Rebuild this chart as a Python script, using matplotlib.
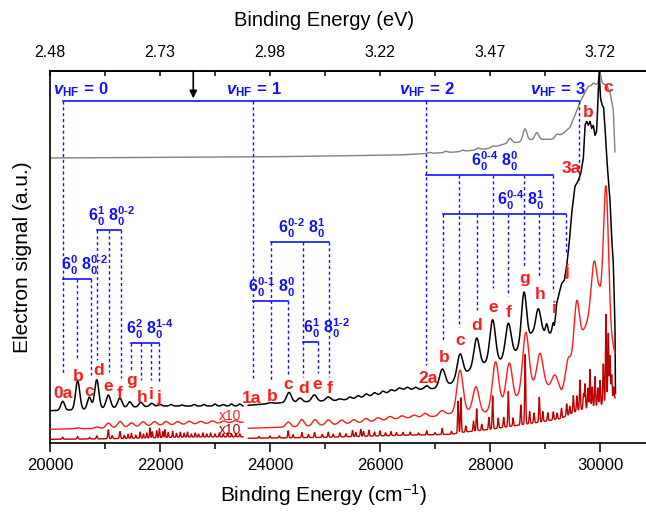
import numpy as np
import matplotlib
matplotlib.use('Agg')
import matplotlib.pyplot as plt
from matplotlib.ticker import MultipleLocator

plt.rcParams['font.family'] = ['Liberation Sans', 'DejaVu Sans']
plt.rcParams['mathtext.fontset'] = 'custom'
plt.rcParams['mathtext.rm'] = 'Liberation Sans'
plt.rcParams['mathtext.it'] = 'Liberation Sans:italic'
plt.rcParams['mathtext.bf'] = 'Liberation Sans:bold'
plt.rcParams['mathtext.bfit'] = 'Liberation Sans:italic:bold'

# ---------------- data ----------------
# x in cm^-1, y in arbitrary signal units
seg1 = (20000, 23510)
seg2 = (23605, 30280)

# gray trace: baseline knots + peaks (center, height, width)
gray_knots = [(20000, 285.3), (24000, 286.5), (26364, 288.3), (27455, 291.6), (28000, 295),
              (28242, 299), (28500, 301), (28740, 303.5), (28970, 304), (29151, 304),
              (29333, 310), (29455, 316), (29545, 328), (29636, 341), (29727, 351),
              (29788, 357), (29939, 359), (30000, 361), (30121, 358), (30182, 351),
              (30242, 333), (30273, 290)]
gray_peaks = [(26900, 1, 30), (27200, 1.2, 30), (27500, 1.2, 30), (27780, 1.5, 30),
              (28050, 1.5, 30), (28364, 5, 35), (28636, 12, 35), (28849, 7, 35),
              (29212, 3, 35), (29880, 2, 20), (30000, 9, 20)]

# black trace
black1_knots = [(20000, 32.6), (20500, 33.5), (21000, 35), (22000, 37.3), (23510, 37.3)]
black1_peaks = [(20231, 9, 35), (20503, 29, 38), (20715, 12, 35), (20850, 29, 38),
                (21060, 13, 40), (21270, 9.5, 40), (21450, 5.5, 35), (21650, 4.5, 35),
                (21850, 3, 35), (22000, 1.5, 30), (22200, 1.5, 25), (22400, 1, 25),
                (22620, 1.5, 25), (22800, 1.5, 25), (23000, 2, 25), (23150, 1.5, 25),
                (23300, 2, 25), (23450, 2, 25)]
black2_knots = [(23605, 38), (24200, 40.5), (25300, 43), (26000, 49), (26400, 54), (26900, 54),
                (27000, 55), (27290, 60), (27600, 72), (27900, 80), (28190, 83), (28470, 92),
                (28760, 110), (28970, 111), (29091, 110), (29170, 112), (29213, 140),
                (29303, 160), (29351, 163), (29394, 177), (29440, 200), (29485, 230),
                (29545, 257), (29600, 262), (29650, 270), (29697, 285), (29727, 318),
                (29758, 322), (29788, 318), (29818, 322), (29849, 315), (29879, 318),
                (29909, 308), (29939, 312), (29960, 340), (29985, 372), (30010, 345),
                (30040, 338), (30065, 336), (30091, 316), (30121, 287), (30152, 263),
                (30182, 243), (30212, 206), (30242, 180), (30262, 140), (30273, 113),
                (30280, 50)]
black2_peaks = [(24000, 1, 40), (24345, 10, 45), (24545, 4, 40), (24805, 6.5, 45),
                (25060, 4, 45), (25270, 1.5, 40), (25450, 2, 30), (25600, 2, 30),
                (25750, 2.5, 30), (25900, 2.5, 30), (26050, 2.5, 30), (26200, 2, 30),
                (26350, 2, 30), (26500, 2, 30), (26650, 2, 30), (26850, 3.5, 40),
                (27133, 17, 50), (27455, 23, 50), (27758, 29, 50), (28048, 42, 50),
                (28333, 32.5, 50), (28618, 50, 45), (28878, 24, 45), (29031, 9, 20),
                (29151, 9, 20)]

# red (x10) trace
red1_knots = [(20000, 14), (21000, 15), (22000, 18), (23510, 21)]
red1_peaks = [(20500, 1, 40), (20850, 1.5, 40), (21060, 5, 45), (21273, 6, 45),
              (21480, 4, 45), (21690, 4.5, 45), (21900, 4, 45), (22110, 3.5, 45),
              (22320, 3, 45), (22530, 3, 45), (22740, 2.5, 45), (22950, 2.5, 45),
              (23160, 2, 45), (23370, 2, 45)]
red2_knots = [(23605, 15), (24500, 16.5), (25500, 20), (26400, 25), (27000, 27), (27300, 30),
              (27580, 32), (27920, 31), (28210, 40), (28455, 44), (28760, 58), (29000, 58),
              (29303, 52), (29697, 112), (29988, 148), (30273, 90)]
red2_peaks = [(24333, 5, 45), (24576, 7, 45), (24818, 6, 45), (25060, 5, 45), (25300, 4, 45),
              (25520, 3.5, 45), (25740, 3.5, 45), (25960, 3, 45), (26180, 3, 45),
              (26400, 2.5, 45), (26620, 2.5, 45), (26820, 3.5, 45), (27125, 4.5, 50),
              (27455, 42, 55), (27745, 25, 55), (28100, 45, 55), (28350, 38, 55),
              (28650, 58, 55), (28909, 32, 55), (29182, 14, 55), (29420, 15, 40),
              (29576, 49, 47), (29891, 46, 50), (30109, 134, 45)]

# dark red (x10) trace
dred1_knots = [(20000, 4), (21000, 4.5), (22500, 6.3), (23510, 6.5)]
dred1_peaks = [(20230, 2, 10), (20500, 2.5, 10), (20720, 1.5, 10), (20850, 3, 10),
               (21060, 9, 10), (21130, 3, 10), (21273, 7, 10), (21350, 3, 8), (21420, 4, 8),
               (21480, 5, 8), (21560, 3, 8), (21640, 6, 8), (21700, 4, 8), (21760, 5, 8),
               (21818, 10, 8), (21860, 6, 8), (21940, 7, 8), (21990, 9, 8), (22050, 6, 8),
               (22090, 8, 8), (22150, 5, 8), (22230, 6, 8), (22300, 4, 8), (22370, 5, 8),
               (22440, 4, 8), (22500, 5, 8), (22570, 3, 8), (22640, 4, 8), (22700, 3, 8),
               (22780, 4, 8), (22850, 3, 8), (22920, 4, 8), (23000, 3, 8), (23080, 4, 8),
               (23150, 3, 8), (23230, 4, 8), (23300, 3, 8), (23380, 3, 8), (23450, 3, 8)]
dred2_knots = [(23605, 5), (25000, 6), (26400, 8), (27300, 9), (27500, 11), (28000, 14),
               (28500, 18), (29000, 22), (29300, 25), (29600, 33), (30000, 38), (30273, 45)]
dred2_peaks = [(23800, 1.5, 9), (24000, 2, 9), (24170, 2, 9), (24330, 7, 9), (24420, 3, 9),
               (24580, 5, 9), (24700, 3, 9), (24810, 5, 9), (24950, 3, 9), (25060, 5, 9),
               (25150, 3, 9), (25270, 4, 9), (25380, 3, 9), (25500, 6, 9), (25560, 4, 9),
               (25650, 7, 9), (25700, 5, 9), (25800, 6, 9), (25900, 4, 9), (26000, 5, 9),
               (26100, 3, 9), (26200, 4, 9), (26300, 3, 9), (26420, 3, 9), (26550, 3, 9),
               (26700, 2, 9), (26850, 4, 9), (27000, 2, 9), (27130, 6, 9), (27300, 3, 9),
               (27420, 32, 9), (27470, 35, 9), (27560, 6, 9), (27700, 10, 9), (27758, 22, 9),
               (27850, 6, 9), (27980, 12, 9), (28048, 33, 9), (28150, 10, 9), (28250, 10, 9),
               (28333, 35, 9), (28420, 8, 9), (28560, 20, 9), (28640, 70, 9), (28720, 12, 9),
               (28800, 10, 9), (28896, 25, 9), (28960, 10, 9), (29050, 8, 9), (29151, 8, 9),
               (29220, 6, 9), (29300, 10, 9), (29394, 12, 9), (29450, 8, 9), (29515, 17, 9),
               (29580, 15, 9), (29636, 30, 9), (29700, 15, 9), (29727, 25, 9), (29780, 20, 9),
               (29818, 38, 9), (29860, 20, 9), (29909, 30, 9), (29960, 18, 9), (30000, 25, 9),
               (30060, 40, 9), (30109, 88, 9), (30151, 68, 9), (30182, 45, 9), (30212, 25, 9),
               (30250, 12, 9)]

# axis ticks
x_ticks = [20000, 22000, 24000, 26000, 28000, 30000]
ev_labels = ['2.48', '2.73', '2.98', '3.22', '3.47', '3.72']

# vibrational progression markers
vhf_labels = [r'$\mathbfit{v}_{\mathbf{HF}}\mathbf{\,=\,0}$', r'$\mathbfit{v}_{\mathbf{HF}}\mathbf{\,=\,1}$',
              r'$\mathbfit{v}_{\mathbf{HF}}\mathbf{\,=\,2}$', r'$\mathbfit{v}_{\mathbf{HF}}\mathbf{\,=\,3}$']
vhf_origins = [20231, 23696, 26836, 29618]
vhf_drop_ends = [68.3, 65, 78.3, 260]
vhf_label_x = [20055, 23700, 26855, 29236]
vhf_label_ha = ['left', 'center', 'center', 'center']
vhf_line_y = 342.6
vhf_label_y = 349

H_ = '\u2010'  # short hyphen
# combination band brackets: label, bracket y, member positions, drop ends, label x
brackets = [
    (r'$\mathbf{6^{0}_{0}\ 8^{0' + H_ + r'2}_{0}}$', 164, [20231, 20485, 20740], [None, 85.3, 68.3], 20618),
    (r'$\mathbf{6^{1}_{0}\ 8^{0' + H_ + r'2}_{0}}$', 213, [20860, 21078, 21285], [83.3, 71.6, 65.3], 21121),
    (r'$\mathbf{6^{2}_{0}\ 8^{1' + H_ + r'4}_{0}}$', 100.6, [21467, 21655, 21831, 21987], [71.6, 63.3, 63.3, 61.6], 21809),
    (r'$\mathbf{6^{0' + H_ + r'1}_{0}\ 8^{0}_{0}}$', 142.6, [23696, 24333], [None, 68.3], 24024),
    (r'$\mathbf{6^{0' + H_ + r'2}_{0}\ 8^{1}_{0}}$', 201, [24013, 24595, 25078], [63.3, 66.6, 66.6], 24576),
    (r'$\mathbf{6^{1}_{0}\ 8^{1' + H_ + r'2}_{0}}$', 101, [24595, 24867], [None, 70], 25030),
    (r'$\mathbf{6^{0' + H_ + r'4}_{0}\ 8^{0}_{0}}$', 268.3, [26836, 27442, 28049, 28618, 29151], [None, 116.6, 155, 176.6, 151.6], 28078),
    (r'$\mathbf{6^{0' + H_ + r'4}_{0}\ 8^{1}_{0}}$', 229.3, [27151, 27769, 28333, 28896, 29382], [103.3, 133.3, 147.3, 165.3, 191.6], 28555),
]

# red peak letters: text, x, baseline y
peak_letters = [
    ('0a', 20231, 45), ('b', 20504, 62.6), ('c', 20715, 47.6), ('d', 20878, 68.3),
    ('e', 21060, 52.6), ('f', 21273, 45), ('g', 21485, 58.3), ('h', 21678, 41.6),
    ('i', 21836, 44), ('j', 21982, 41.6),
    ('1a', 23667, 40.6), ('b', 24031, 42.6), ('c', 24333, 54), ('d', 24605, 50),
    ('e', 24867, 54), ('f', 25091, 50.6),
    ('2a', 26878, 60.6), ('b', 27169, 81.6), ('c', 27455, 98.3), ('d', 27758, 113.3),
    ('e', 28049, 131.6), ('f', 28333, 126.6), ('g', 28624, 160.6), ('h', 28909, 144),
    ('i', 29164, 130), ('j', 29394, 167.3),
    ('3a', 29485, 270), ('b', 29788, 326.6), ('c', 30151, 351.6),
]

arrow_x = 22605

# ---------------- build curves ----------------
def build(seg, knots, peaks, step=4.0):
    x = np.arange(seg[0], seg[1] + step / 2, step)
    kx = [k[0] for k in knots]
    ky = [k[1] for k in knots]
    y = np.interp(x, kx, ky)
    for c, h, s in peaks:
        y = y + h * np.exp(-0.5 * ((x - c) / s) ** 2)
    return x, y

W, H = 646, 516
fig = plt.figure(figsize=(W / 100, H / 100), dpi=100)
left_px, top_px, bot_px = 50, 70.7, 443.3
ax = fig.add_axes([left_px / W, 1 - bot_px / H, (W - left_px) / W, (bot_px - top_px) / H])
ax.set_xlim(20000, 20000 + (W - left_px) / 55.0 * 1000)
ax.set_ylim(0, bot_px - top_px)

BLUE = '#1010ff'
RED = '#ff1a1a'
DRED = '#c00000'

xg, yg = build((20000, 30273), gray_knots, gray_peaks)
ax.plot(xg, yg, color='#808080', lw=1.0, zorder=2)
for seg, kn, pk in [(seg1, black1_knots, black1_peaks), (seg2, black2_knots, black2_peaks)]:
    x, y = build(seg, kn, pk)
    ax.plot(x, y, color='black', lw=1.1, zorder=3)
for seg, kn, pk in [(seg1, red1_knots, red1_peaks), ((23605, 30273), red2_knots, red2_peaks)]:
    x, y = build(seg, kn, pk)
    ax.plot(x, y, color=RED, lw=1.0, zorder=3)
for seg, kn, pk in [(seg1, dred1_knots, dred1_peaks), ((23605, 30273), dred2_knots, dred2_peaks)]:
    x, y = build(seg, kn, pk, step=3.0)
    ax.plot(x, y, color=DRED, lw=1.0, zorder=3)

ax.text(23485, 23.3, 'x10', color=RED, fontsize=10, ha='right', va='baseline')
ax.text(23485, 9, 'x10', color=DRED, fontsize=10, ha='right', va='baseline')

dash = (0, (2.2, 2.0))
# v_HF progression
ax.plot([vhf_origins[0], vhf_origins[-1]], [vhf_line_y, vhf_line_y], color=BLUE, lw=1.2, zorder=4)
for xo, ye in zip(vhf_origins, vhf_drop_ends):
    ax.plot([xo, xo], [vhf_line_y, ye], color=BLUE, lw=1.0, ls=dash, zorder=4)
for lab, lx, ha in zip(vhf_labels, vhf_label_x, vhf_label_ha):
    ax.text(lx, vhf_label_y, lab, color=BLUE, fontsize=12, ha=ha, va='baseline', zorder=5)

for lab, by, xs, ends, lx in brackets:
    ax.plot([xs[0], xs[-1]], [by, by], color=BLUE, lw=1.2, zorder=4)
    for xx, ye in zip(xs, ends):
        if ye is not None:
            ax.plot([xx, xx], [by, ye], color=BLUE, lw=1.0, ls=dash, zorder=4)
    ax.text(lx, by + 2, lab, color=BLUE, fontsize=11.5, ha='center', va='bottom', zorder=5)

for t, xx, yy in peak_letters:
    ax.text(xx, yy, t, color=RED, fontsize=12.5, fontweight='bold', ha='center', va='baseline', zorder=6)

ax.annotate('', xy=(arrow_x, 345), xytext=(arrow_x, bot_px - top_px),
            arrowprops=dict(arrowstyle='-|>', color='black', lw=1.2, mutation_scale=11,
                            shrinkA=0, shrinkB=0), zorder=6)

# axes styling
for s in ['left', 'bottom', 'top']:
    ax.spines[s].set_linewidth(1.2)
ax.spines['right'].set_visible(False)
ax.set_yticks([])
ax.set_xticks(x_ticks)
ax.xaxis.set_minor_locator(MultipleLocator(1000))
ax.tick_params(axis='x', which='major', direction='out', length=6.5, width=1.1, labelsize=12, pad=4)
ax.tick_params(axis='x', which='minor', direction='out', length=4, width=1.1)
ax.set_xlabel('Binding Energy (cm$^{-1}$)', fontsize=15, va='center')
ax.xaxis.set_label_coords((324 - left_px) / (W - left_px), (bot_px - 495) / (bot_px - top_px))
ax.set_ylabel('Electron signal (a.u.)', fontsize=15, va='center')
ax.yaxis.set_label_coords((23 - left_px) / (W - left_px), 0.5)

sec = ax.secondary_xaxis('top')
sec.set_xticks(x_ticks, labels=ev_labels)
sec.xaxis.set_minor_locator(MultipleLocator(1000))
sec.tick_params(axis='x', which='major', direction='in', length=3.5, width=1.1, labelsize=11.5, pad=8)
sec.tick_params(axis='x', which='minor', direction='in', length=3.5, width=1.1)
sec.spines['top'].set_linewidth(1.2)
fig.text(324 / W, 1 - 20 / H, 'Binding Energy (eV)', fontsize=14.5, ha='center', va='center')

fig.savefig('out.png', dpi=100)
